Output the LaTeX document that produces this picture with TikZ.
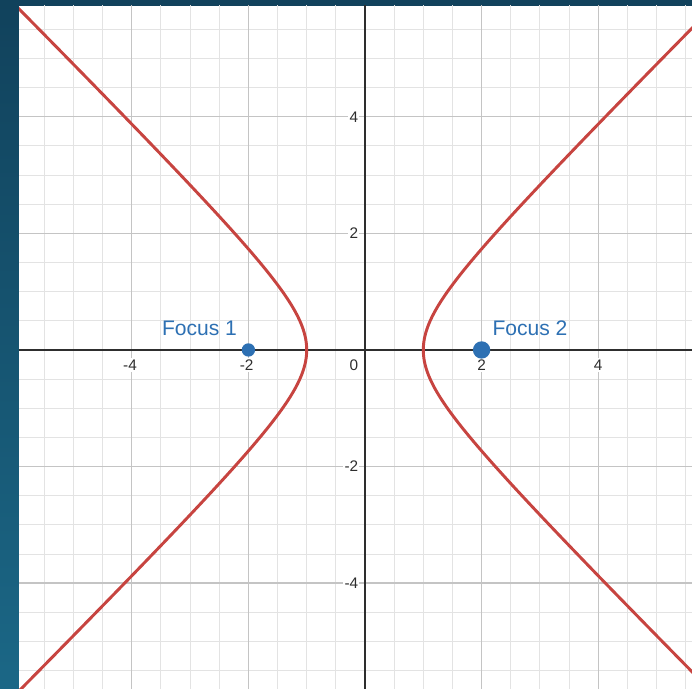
\documentclass[tikz,border=0pt]{standalone}
\usepackage{fontspec}
\setmainfont{Liberation Sans}
\definecolor{bgtop}{HTML}{11425C}
\definecolor{bgbot}{HTML}{1B6786}
\definecolor{dred}{HTML}{C74440}
\definecolor{dblue}{HTML}{2D70B3}
\definecolor{minorc}{HTML}{E3E3E3}
\definecolor{majorc}{HTML}{C4C4C4}
\definecolor{axisc}{HTML}{2E2E2E}
\tikzset{
  minorgrid/.style={draw=minorc, line width=0.75pt},
  majorgrid/.style={draw=majorc, line width=1.0pt},
  axisline/.style={draw=axisc, line width=1.4pt},
  curve/.style={draw=dred, line width=2.2pt},
  ticklab/.style={font=\fontsize{11.5}{11.5}\selectfont, text=axisc, fill=white, inner sep=1pt},
  focuslab/.style={font=\fontsize{15.8}{15.8}\selectfont, text=dblue, anchor=base, inner sep=0pt},
  focusdot/.style={circle, fill=dblue, inner sep=0pt},
}
\begin{document}
\begin{tikzpicture}[x=43.725pt, y=43.725pt]
\useasboundingbox (-6.261,-5.815) rectangle (5.609,6.003);
\shade[top color=bgtop, bottom color=bgbot] (-6.261,-5.815) rectangle (5.609,6.003);
\fill[white] (-5.935,-5.815) rectangle (5.609,5.900);
\begin{scope}
\clip (-5.935,-5.815) rectangle (5.609,5.900);
\draw[minorgrid, step=0.5] (-6.5,-6.5) grid (6.5,6.5);
\draw[majorgrid, step=2] (-6.5,-6.5) grid (6.5,6.5);
\draw[axisline] (-6.5,0) -- (6.5,0);
\draw[axisline] (0,-6.5) -- (0,6.5);
\draw[curve] plot[domain=-2.6:2.6, samples=200, smooth, variable=\t] ({cosh(\t)},{sinh(\t)});
\draw[curve] plot[domain=-2.6:2.6, samples=200, smooth, variable=\t] ({-cosh(\t)},{sinh(\t)});
\end{scope}
% x tick labels
\node[ticklab] (xm4) at (-4.03,-0.257) {-4};
\node[ticklab] (xm2) at (-2.03,-0.257) {-2};
\node[ticklab] (x0) at (-0.19,-0.257) {0};
\node[ticklab] (x2) at (2,-0.257) {2};
\node[ticklab] (x4) at (4,-0.257) {4};
% y tick labels
\node[ticklab, anchor=east] (y4) at (-0.09,4) {4};
\node[ticklab, anchor=east] (y2) at (-0.09,2) {2};
\node[ticklab, anchor=east] (ym2) at (-0.09,-2) {-2};
\node[ticklab, anchor=east] (ym4) at (-0.09,-4) {-4};
% foci
\node[focusdot, minimum size=10pt] (f1) at (-2,0) {};
\node[focusdot, minimum size=13pt] (f2) at (2,0) {};
\node[focuslab] (l1) at (-2.839,0.24) {Focus 1};
\node[focuslab] (l2) at (2.83,0.24) {Focus 2};
\end{tikzpicture}
\end{document}
